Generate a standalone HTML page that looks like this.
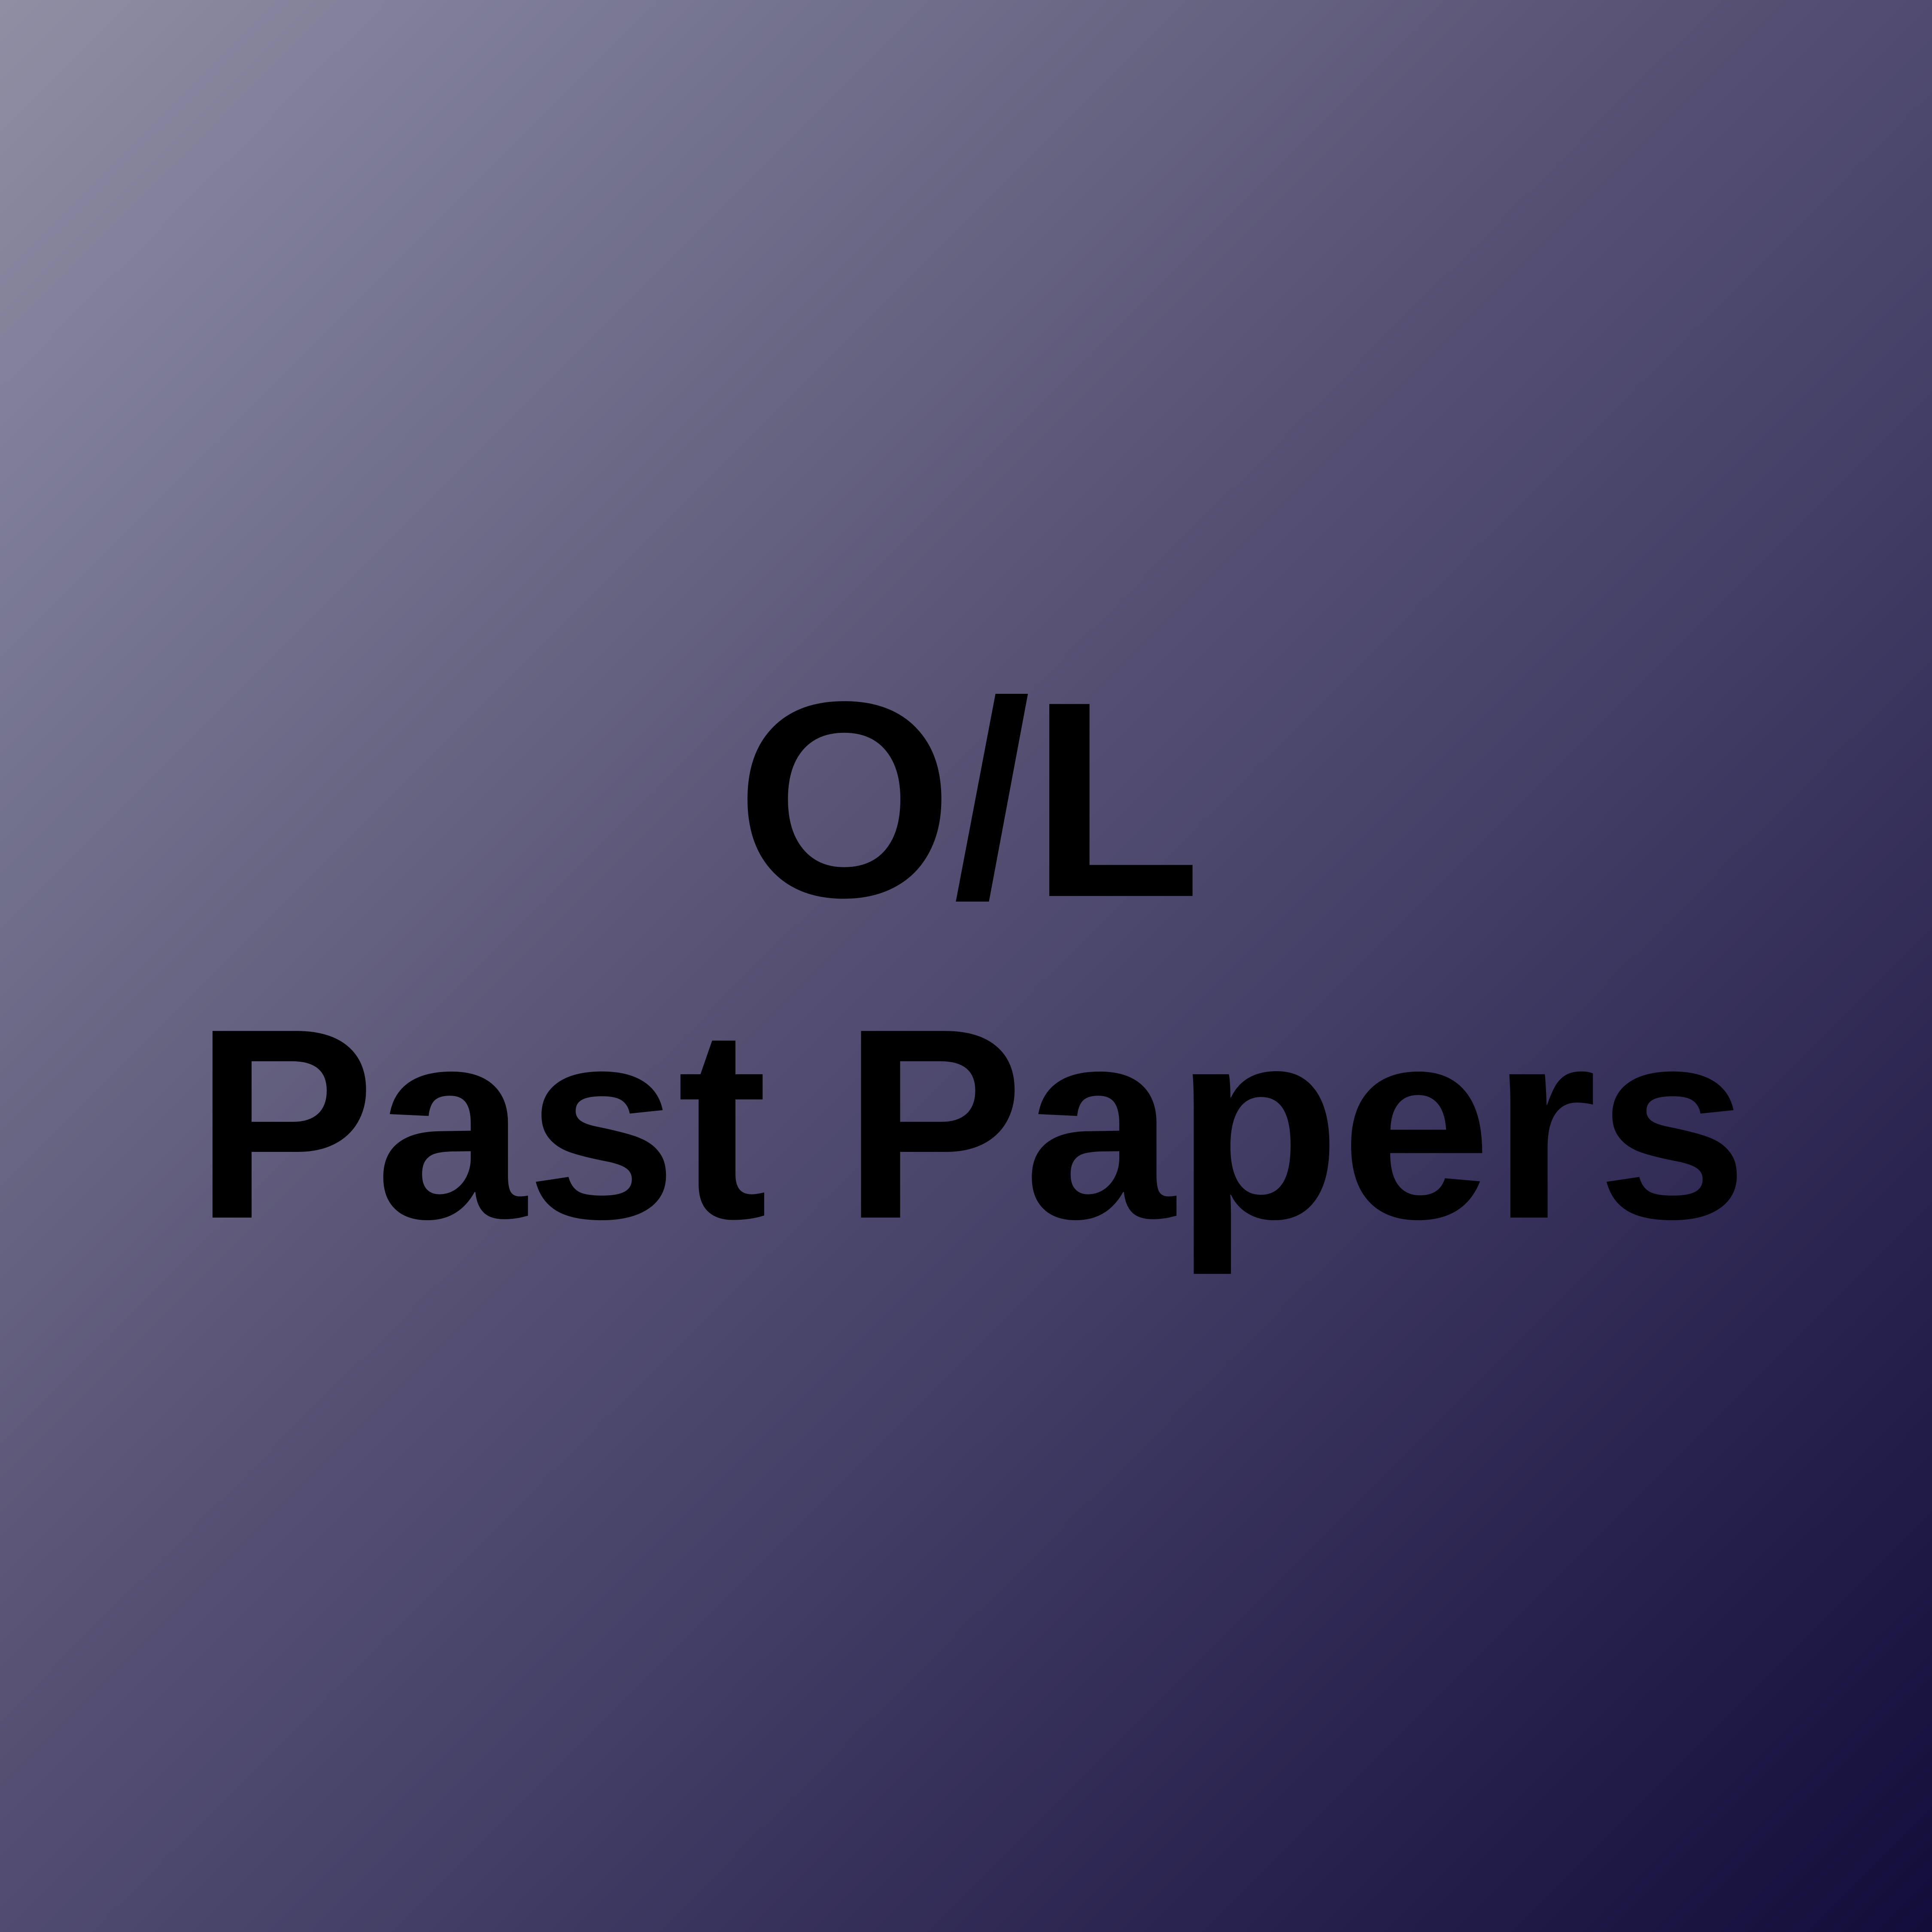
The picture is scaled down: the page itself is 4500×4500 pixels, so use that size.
<!DOCTYPE html>
<html>
<head>
<meta charset="utf-8">
<style>
  html,body{margin:0;padding:0;}
  body{width:4500px;height:4500px;overflow:hidden;}
  svg{display:block;}
</style>
</head>
<body>
<svg width="4500" height="4500" viewBox="0 0 4500 4500" xmlns="http://www.w3.org/2000/svg">
  <defs>
    <linearGradient id="bg" x1="0" y1="0" x2="1" y2="1">
      <stop offset="0" stop-color="#908ea3"/>
      <stop offset="0.22" stop-color="#72718d"/>
      <stop offset="0.42" stop-color="#5a5476"/>
      <stop offset="0.6" stop-color="#433f66"/>
      <stop offset="0.8" stop-color="#2a2450"/>
      <stop offset="1" stop-color="#120d3a"/>
    </linearGradient>
  </defs>
  <rect x="0" y="0" width="4500" height="4500" fill="url(#bg)"/>
  <text x="2256" y="2087" text-anchor="middle" font-family="'Liberation Sans', Arial, sans-serif" font-weight="bold" font-size="650" fill="#000">O/L</text>
  <text x="2262" y="2836" text-anchor="middle" font-family="'Liberation Sans', Arial, sans-serif" font-weight="bold" font-size="632" fill="#000">Past Papers</text>
</svg>
</body>
</html>
